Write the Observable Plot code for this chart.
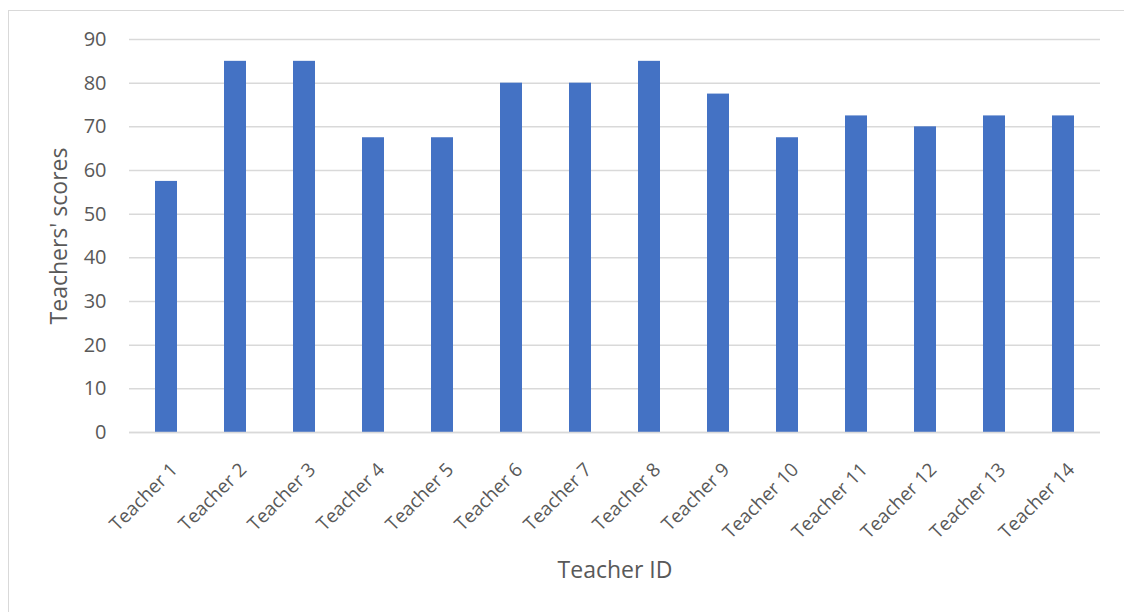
<!DOCTYPE html>
<html>
<head>
<meta charset="utf-8">
<script src="https://cdn.jsdelivr.net/npm/d3@7"></script>
<script src="https://cdn.jsdelivr.net/npm/@observablehq/plot@0.6"></script>
<style>
  html, body { margin: 0; padding: 0; background: #fff; }
  #wrap { position: relative; width: 1124px; height: 612px; overflow: hidden; }
  #border { position: absolute; left: 8px; top: 10px; width: 1200px; height: 700px;
            border-left: 1.5px solid #d9d9d9; border-top: 1.5px solid #d9d9d9; box-sizing: border-box; }
  #chart { position: absolute; left: 0; top: 0; }
</style>
</head>
<body>
<div id="wrap"><div id="border"></div><div id="chart"></div></div>
<script>
const teachers = ["Teacher 1","Teacher 2","Teacher 3","Teacher 4","Teacher 5","Teacher 6","Teacher 7",
                  "Teacher 8","Teacher 9","Teacher 10","Teacher 11","Teacher 12","Teacher 13","Teacher 14"];
const scores = [57.5, 85, 85, 67.5, 67.5, 80, 80, 85, 77.5, 67.5, 72.5, 70, 72.5, 72.5];
const yTicks = [0, 10, 20, 30, 40, 50, 60, 70, 80, 90];
const xTitle = "Teacher ID";
const yTitle = "Teachers' scores";

const data = teachers.map((t, i) => ({teacher: t, score: scores[i]}));

const chart = Plot.plot({
  width: 1124,
  height: 612,
  marginLeft: 129,
  marginRight: 24,
  marginTop: 39,
  marginBottom: 180,
  style: {fontFamily: "'Open Sans', sans-serif", fontSize: "20px", color: "#595959", background: "transparent"},
  x: {domain: teachers, paddingInner: 0.68, paddingOuter: 0.34},
  y: {domain: [0, 90]},
  marks: [
    Plot.gridY(yTicks, {stroke: "#d9d9d9", strokeOpacity: 1, strokeWidth: 1.5}),
    Plot.barY(data, {x: "teacher", y: "score", fill: "#4472c4"}),
    Plot.ruleY([0], {stroke: "#d9d9d9", strokeWidth: 1.5}),
    Plot.axisY(yTicks, {tickSize: 0, tickPadding: 23, fontSize: 20, fill: "#595959", label: null}),
    Plot.axisX({tickSize: 0, tickRotate: -45, tickPadding: 34, dx: 8, textAnchor: "end", lineAnchor: "middle",
      fontSize: 19, fill: "#595959", label: null}),
    Plot.text([xTitle], {frameAnchor: "bottom", dy: 145, textAnchor: "middle", lineAnchor: "bottom",
      fontSize: 23, fill: "#595959"}),
    Plot.text([yTitle], {frameAnchor: "left", dx: -79, rotate: -90, textAnchor: "middle", lineAnchor: "top",
      fontSize: 23, fill: "#595959"})
  ]
});
document.getElementById("chart").appendChild(chart);
</script>
</body>
</html>
